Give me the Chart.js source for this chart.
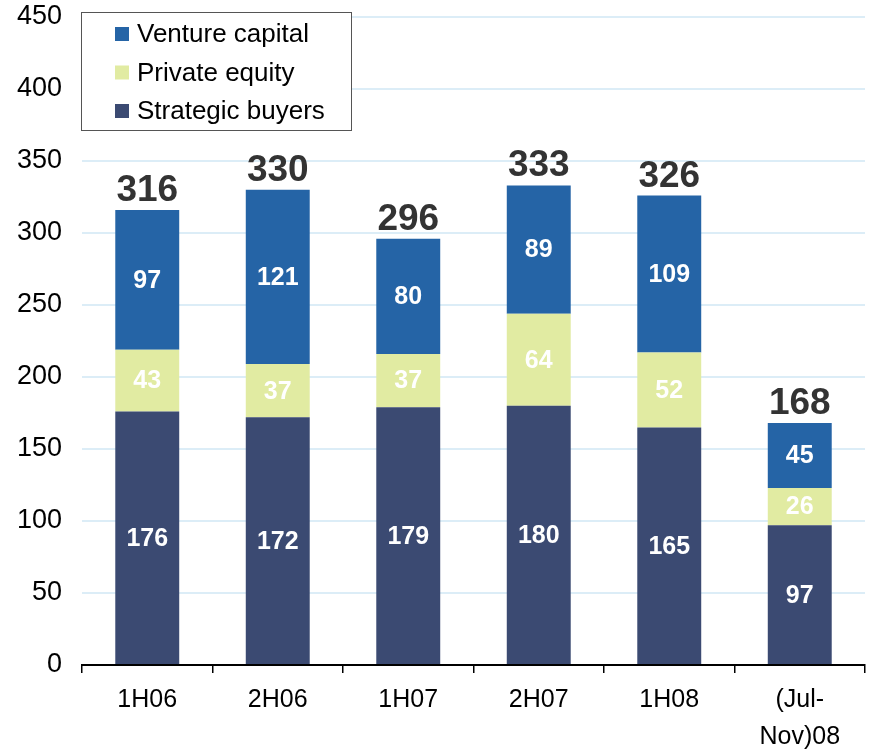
<!DOCTYPE html>
<html>
<head>
<meta charset="utf-8">
<script src="https://cdn.jsdelivr.net/npm/chart.js@4"></script>
<style>
  html, body { margin: 0; padding: 0; background: #fff; }
  #wrap { width: 872px; height: 752px; }
</style>
</head>
<body>
<div id="wrap"><canvas id="chart" width="872" height="752"></canvas></div>
<script>
var categories = ['1H06', '2H06', '1H07', '2H07', '1H08', ['(Jul-', 'Nov)08']];
var strategicBuyers = [176, 172, 179, 180, 165, 97];
var privateEquity = [43, 37, 37, 64, 52, 26];
var ventureCapital = [97, 121, 80, 89, 109, 45];
var totals = [316, 330, 296, 333, 326, 168];
var yTicks = [0, 50, 100, 150, 200, 250, 300, 350, 400, 450];

var FONT = "'Liberation Sans', Arial, sans-serif";

// white numbers inside the segments, bold totals on top
var labelPlugin = {
    id: 'labels',
    afterDatasetsDraw: function(chart){
        var ctx = chart.ctx;
        ctx.save();
        ctx.textAlign = 'center';
        ctx.textBaseline = 'middle';
        ctx.font = 'bold 25px ' + FONT;
        ctx.fillStyle = '#ffffff';
        chart.data.datasets.forEach(function(ds, i){
            var meta = chart.getDatasetMeta(i);
            meta.data.forEach(function(bar, j){
                var mid = (bar.y + bar.base) / 2;
                ctx.fillText(ds.data[j], bar.x, mid + 1);
            });
        });
        var top = chart.getDatasetMeta(chart.data.datasets.length - 1);
        ctx.font = 'bold 37px ' + FONT;
        ctx.fillStyle = '#333333';
        ctx.textBaseline = 'alphabetic';
        top.data.forEach(function(bar, j){
            ctx.fillText(totals[j], bar.x, bar.y - 9);
        });
        ctx.restore();
    }
};

// boxed legend in the top-left corner of the plot
var legendPlugin = {
    id: 'boxLegend',
    afterDraw: function(chart){
        var ctx = chart.ctx;
        var x = 81, y = 12, w = 270, h = 118;
        ctx.save();
        ctx.fillStyle = '#ffffff';
        ctx.fillRect(x, y, w, h);
        ctx.strokeStyle = '#555555';
        ctx.lineWidth = 1;
        ctx.strokeRect(x + 0.5, y + 0.5, w, h);
        ctx.font = '26px ' + FONT;
        ctx.textBaseline = 'middle';
        ctx.textAlign = 'left';
        var items = chart.data.datasets.slice().reverse();
        items.forEach(function(ds, i){
            var cy = 34 + i * 38.5;
            ctx.fillStyle = ds.backgroundColor;
            ctx.fillRect(115, cy - 7, 14, 14);
            ctx.fillStyle = '#000000';
            ctx.fillText(ds.label, 137, cy + 1);
        });
        ctx.restore();
    }
};

new Chart(document.getElementById('chart').getContext('2d'), {
    type: 'bar',
    data: {
        labels: categories,
        datasets: [{
            label: 'Strategic buyers',
            data: strategicBuyers,
            backgroundColor: '#3b4a72'
        },{
            label: 'Private equity',
            data: privateEquity,
            backgroundColor: '#e1eba2'
        },{
            label: 'Venture capital',
            data: ventureCapital,
            backgroundColor: '#2564a6'
        }]
    },
    options: {
        responsive: false,
        animation: false,
        layout: { padding: { left: 0, right: 7, top: 17, bottom: 0 } },
        datasets: { bar: { barPercentage: 0.49, categoryPercentage: 1 } },
        plugins: {
            legend: { display: false },
            tooltip: { enabled: false }
        },
        scales: {
            x: {
                stacked: true,
                grid: {
                    offset: true,
                    drawOnChartArea: false,
                    drawTicks: true,
                    tickLength: 8,
                    color: '#000000',
                    lineWidth: 1.5
                },
                border: { display: true, color: '#000000', width: 2 },
                ticks: {
                    color: '#000000',
                    padding: 8,
                    maxRotation: 0,
                    font: { family: FONT, size: 25, lineHeight: 1.5 }
                },
                afterFit: function(scale){
                    scale.height = 87;
                    scale.paddingLeft = 0;
                    scale.paddingRight = 0;
                }
            },
            y: {
                stacked: true,
                min: 0,
                max: 450,
                afterBuildTicks: function(scale){
                    scale.ticks = yTicks.map(function(v){ return { value: v }; });
                },
                grid: {
                    color: '#dcedf7',
                    lineWidth: 2,
                    drawTicks: false
                },
                border: { display: false },
                ticks: {
                    color: '#000000',
                    padding: 20,
                    font: { family: FONT, size: 27 }
                },
                afterFit: function(scale){
                    scale.width = 82;
                    scale.paddingTop = 0;
                    scale.paddingBottom = 0;
                }
            }
        }
    },
    plugins: [labelPlugin, legendPlugin]
});
</script>
</body>
</html>
